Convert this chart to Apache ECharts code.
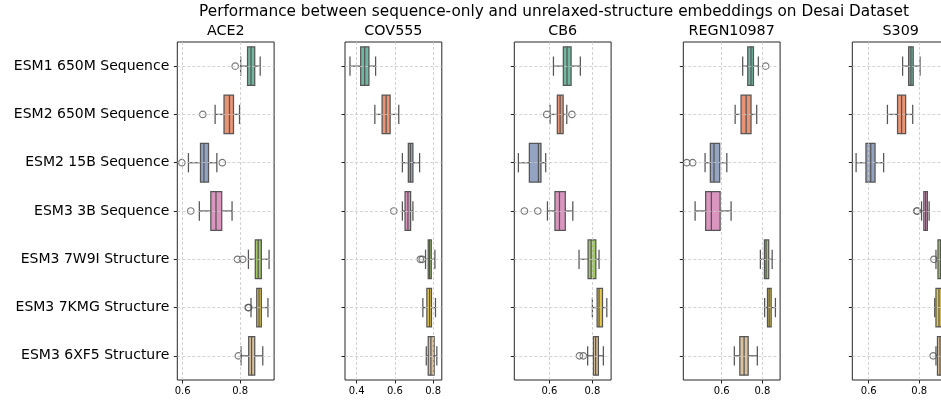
<!DOCTYPE html>
<html><head><meta charset="utf-8">
<script src="https://cdn.jsdelivr.net/npm/echarts@6/dist/echarts.min.js"></script>
<style>html,body{margin:0;padding:0;background:#fff}#c{width:941px;height:402px}</style>
</head><body><div id="c"></div>
<script>
const categories = ['ESM1 650M Sequence','ESM2 650M Sequence','ESM2 15B Sequence','ESM3 3B Sequence','ESM3 7W9I Structure','ESM3 7KMG Structure','ESM3 6XF5 Structure'];
const targets = ['ACE2','COV555','CB6','REGN10987','S309'];
const mainTitle = 'Performance between sequence-only and unrelaxed-structure embeddings on Desai Dataset';

// per target: [lower whisker, Q1, median, Q3, upper whisker] for each category
const ace2Stats = [
  [0.802,0.826,0.838,0.851,0.870],
  [0.713,0.744,0.763,0.777,0.798],
  [0.620,0.662,0.674,0.690,0.719],
  [0.658,0.698,0.716,0.736,0.772],
  [0.829,0.853,0.863,0.874,0.901],
  [0.838,0.858,0.866,0.874,0.897],
  [0.803,0.830,0.840,0.851,0.879]
];
const ace2Outliers = [[0,0.783],[1,0.670],[2,0.597],[2,0.738],[3,0.628],[4,0.791],[4,0.809],[5,0.828],[5,0.830],[6,0.794]];

const cov555Stats = [
  [0.365,0.421,0.442,0.464,0.499],
  [0.495,0.533,0.554,0.575,0.620],
  [0.639,0.670,0.681,0.694,0.729],
  [0.639,0.653,0.668,0.682,0.694],
  [0.760,0.774,0.781,0.790,0.809],
  [0.746,0.767,0.781,0.791,0.812],
  [0.764,0.774,0.788,0.805,0.819]
];
const cov555Outliers = [[3,0.594],[4,0.733],[4,0.743]];

const cb6Stats = [
  [0.619,0.665,0.682,0.701,0.744],
  [0.603,0.637,0.650,0.664,0.681],
  [0.456,0.507,0.549,0.561,0.583],
  [0.591,0.626,0.647,0.674,0.709],
  [0.738,0.780,0.794,0.816,0.831],
  [0.800,0.822,0.831,0.847,0.867],
  [0.778,0.805,0.815,0.828,0.851]
];
const cb6Outliers = [[1,0.588],[1,0.705],[3,0.484],[3,0.546],[6,0.740],[6,0.758]];

const regnStats = [
  [0.703,0.728,0.744,0.756,0.780],
  [0.666,0.695,0.720,0.744,0.772],
  [0.518,0.544,0.562,0.590,0.625],
  [0.469,0.521,0.549,0.592,0.646],
  [0.790,0.810,0.818,0.831,0.848],
  [0.811,0.825,0.833,0.843,0.864],
  [0.662,0.689,0.710,0.730,0.775]
];
const regnOutliers = [[0,0.816],[2,0.428],[2,0.457]];

const s309Stats = [
  [0.734,0.758,0.767,0.776,0.803],
  [0.674,0.714,0.730,0.746,0.774],
  [0.550,0.589,0.608,0.625,0.659],
  [0.809,0.818,0.825,0.832,0.839],
  [0.866,0.874,0.884,0.892,0.905],
  [0.861,0.866,0.878,0.888,0.900],
  [0.866,0.872,0.882,0.890,0.905]
];
const s309Outliers = [[3,0.790],[3,0.792],[4,0.858],[6,0.855]];

const xTicks = [[0.6,0.8],[0.4,0.6,0.8],[0.6,0.8],[0.6,0.8],[0.6,0.8]];
const xRanges = [[0.5812,0.9185],[0.339,0.845],[0.437,0.887],[0.411,0.887],[0.535,0.918]];

const allStats = [ace2Stats, cov555Stats, cb6Stats, regnStats, s309Stats];
const allOutliers = [ace2Outliers, cov555Outliers, cb6Outliers, regnOutliers, s309Outliers];

// styles
const palette = ['#71b6a0','#e99575','#95a3c3','#db96c0','#a2c865','#e5c849','#dbc29e'];
const lineColor = '#555555';
const FONT = 'DejaVu Sans';
const panelLefts = [177.3, 345, 514.3, 683.3, 852.3];
const panelWidth = 96.8, panelTop = 42, panelHeight = 338;

function renderBox(params, api) {
  const cat = api.value(0);
  const lo = api.value(1), q1 = api.value(2), med = api.value(3), q3 = api.value(4), hi = api.value(5);
  const band = api.size([0, 1])[1];
  const bh = band * 0.4, ch = band * 0.2;
  const pLo = api.coord([lo, cat]), pQ1 = api.coord([q1, cat]), pMed = api.coord([med, cat]);
  const pQ3 = api.coord([q3, cat]), pHi = api.coord([hi, cat]);
  const y = pLo[1];
  const st = {stroke: lineColor, lineWidth: 1.25, fill: null};
  return {type: 'group', children: [
    {type: 'line', shape: {x1: pLo[0], y1: y, x2: pQ1[0], y2: y}, style: st},
    {type: 'line', shape: {x1: pQ3[0], y1: y, x2: pHi[0], y2: y}, style: st},
    {type: 'line', shape: {x1: pLo[0], y1: y - ch, x2: pLo[0], y2: y + ch}, style: st},
    {type: 'line', shape: {x1: pHi[0], y1: y - ch, x2: pHi[0], y2: y + ch}, style: st},
    {type: 'rect', shape: {x: pQ1[0], y: y - bh, width: pQ3[0] - pQ1[0], height: 2 * bh},
      style: {fill: palette[cat], stroke: lineColor, lineWidth: 1.25}},
    {type: 'line', shape: {x1: pMed[0], y1: y - bh, x2: pMed[0], y2: y + bh}, style: st}
  ]};
}

const grid = [], xAxis = [], yAxis = [], series = [], title = [];
title.push({text: mainTitle, left: 554, top: 12, padding: 0, textAlign: 'center', textVerticalAlign: 'middle',
  textStyle: {fontFamily: FONT, fontSize: 15.3, fontWeight: 'normal', color: '#000'}});
targets.forEach((t, k) => {
  grid.push({left: panelLefts[k], top: panelTop, width: panelWidth, height: panelHeight,
    show: true, borderColor: '#262626', borderWidth: 1, backgroundColor: '#fff',
    containLabel: false, outerBoundsMode: 'none'});
  title.push({text: t, left: panelLefts[k] + panelWidth / 2, top: 31, padding: 0, textAlign: 'center', textVerticalAlign: 'middle',
    textStyle: {fontFamily: FONT, fontSize: 14.3, fontWeight: 'normal', color: '#000'}});
  xAxis.push({type: 'value', gridIndex: k, min: xRanges[k][0], max: xRanges[k][1],
    axisLine: {show: false}, splitLine: {show: false},
    axisTick: {show: true, length: 3.5, lineStyle: {color: '#262626', width: 1}, customValues: xTicks[k]},
    axisLabel: {show: true, margin: 6, fontFamily: FONT, fontSize: 10, color: '#000', customValues: xTicks[k],
      formatter: v => v.toFixed(1)}});
  yAxis.push({type: 'category', gridIndex: k, data: categories, inverse: true,
    axisLine: {show: false}, splitLine: {show: false},
    axisTick: {show: true, alignWithLabel: true, length: 3.5, lineStyle: {color: '#262626', width: 1}},
    axisLabel: {show: k === 0, margin: 8, fontFamily: FONT, fontSize: 14, color: '#000'}});
  // grid lines host
  series.push({type: 'scatter', xAxisIndex: k, yAxisIndex: k, z: 1, silent: true, symbolSize: 0,
    data: [[xTicks[k][0], 0]],
    markLine: {silent: true, symbol: 'none', label: {show: false}, animation: false,
      lineStyle: {type: [3, 2], color: '#c8c8c8', width: 0.8},
      emphasis: {disabled: true},
      data: xTicks[k].map(v => ({xAxis: v})).concat(categories.map(c => ({yAxis: c})))}});
  series.push({type: 'custom', xAxisIndex: k, yAxisIndex: k, z: 3, silent: true,
    renderItem: renderBox,
    encode: {x: [1, 2, 3, 4, 5], y: 0},
    data: allStats[k].map((s, i) => [i].concat(s))});
  series.push({type: 'scatter', xAxisIndex: k, yAxisIndex: k, z: 4, silent: true,
    symbol: 'circle', symbolSize: 6.5,
    itemStyle: {color: 'rgba(255,255,255,0)', borderColor: lineColor, borderWidth: 1.2},
    data: allOutliers[k].map(o => [o[1], o[0]])});
});

const chart = echarts.init(document.getElementById('c'), null, {renderer: 'canvas'});
chart.setOption({animation: false, backgroundColor: '#fff', title, grid, xAxis, yAxis, series});
</script></body></html>
